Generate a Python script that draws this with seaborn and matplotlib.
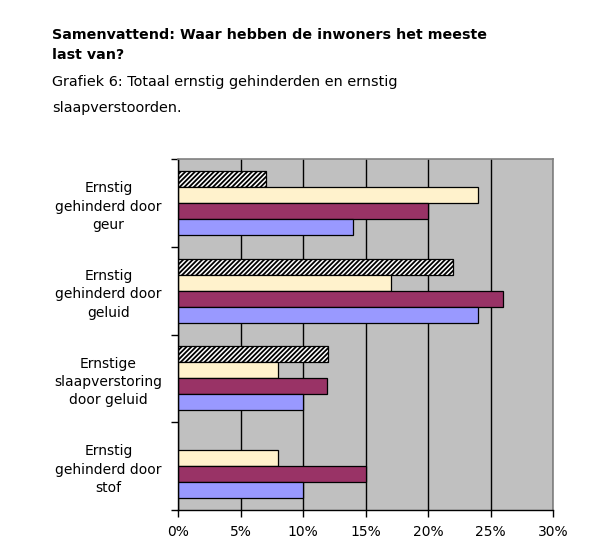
import numpy as np
import pandas as pd
import matplotlib
matplotlib.use("Agg")
import matplotlib.pyplot as plt
from matplotlib.ticker import FuncFormatter
import seaborn as sns

categories = ["Ernstig\ngehinderd door\ngeur",
              "Ernstig\ngehinderd door\ngeluid",
              "Ernstige\nslaapverstoring\ndoor geluid",
              "Ernstig\ngehinderd door\nstof"]
series = ["Reeks 1", "Reeks 2", "Reeks 3", "Reeks 4"]
vals_hatched = [7, 22, 12, np.nan]
vals_yellow = [24, 17, 8, 8]
vals_purple = [20, 26, 11.9, 15]
vals_blue = [14, 24, 10, 10]
xticks = [0, 5, 10, 15, 20, 25, 30]

colors = ["#FFFFFF", "#FFF2CC", "#993366", "#9999FF"]

rows = []
for s, vals in zip(series, [vals_hatched, vals_yellow, vals_purple, vals_blue]):
    for c, v in zip(categories, vals):
        rows.append({"cat": c, "series": s, "val": v})
df = pd.DataFrame(rows)

sns.set_style("white")
plt.rcParams["font.family"] = ["DejaVu Sans"]
plt.rcParams["hatch.linewidth"] = 1.3

fig = plt.figure(figsize=(6.02, 5.57), dpi=100)
ax = fig.add_axes([178/602, 47/557, 375/602, 351/557])
ax.set_facecolor("#C0C0C0")

sns.barplot(data=df, y="cat", x="val", hue="series", order=categories,
            hue_order=series, orient="h", palette=colors, width=0.73,
            edgecolor="black", linewidth=0.9, saturation=1, legend=False, ax=ax)

for p in ax.containers[0]:
    p.set_hatch("///////")
    p.set_edgecolor("black")

ax.set_xlim(0, 30)
ax.set_ylim(3.5, -0.5)
ax.set_axisbelow(True)
ax.xaxis.grid(True, color="black", linewidth=1)
ax.yaxis.grid(False)
ax.set_xticks(xticks)
ax.xaxis.set_major_formatter(FuncFormatter(lambda v, p: f"{int(v)}%"))
ax.set_xlabel("")
ax.set_ylabel("")

ax.set_yticks(range(len(categories)))
ax.set_yticklabels(categories, fontsize=10, linespacing=1.4)
ax.set_yticks([-0.5, 0.5, 1.5, 2.5, 3.5], minor=True)
ax.tick_params(axis="y", which="major", length=0, pad=50, labelcolor="black")
ax.tick_params(axis="y", which="minor", length=5, width=1, color="black", left=True)
ax.tick_params(axis="x", length=5, width=1, color="black", bottom=True,
               labelsize=10, pad=6, labelcolor="black")
for lab in ax.get_yticklabels():
    lab.set_horizontalalignment("center")
    lab.set_multialignment("center")

for side in ["left", "bottom"]:
    ax.spines[side].set_color("black")
    ax.spines[side].set_linewidth(1)
for side in ["top", "right"]:
    ax.spines[side].set_color("#808080")
    ax.spines[side].set_linewidth(1.2)

fig.text(52/602, 1 - 35/557, "Samenvattend: Waar hebben de inwoners het meeste",
         fontsize=10.3, fontweight="bold", va="center", ha="left", color="black")
fig.text(52/602, 1 - 55/557, "last van?",
         fontsize=10.3, fontweight="bold", va="center", ha="left", color="black")
fig.text(52/602, 1 - 82/557, "Grafiek 6: Totaal ernstig gehinderden en ernstig",
         fontsize=10.4, va="center", ha="left", color="black")
fig.text(52/602, 1 - 108/557, "slaapverstoorden.",
         fontsize=10.4, va="center", ha="left", color="black")

fig.savefig("out.png", dpi=100)
